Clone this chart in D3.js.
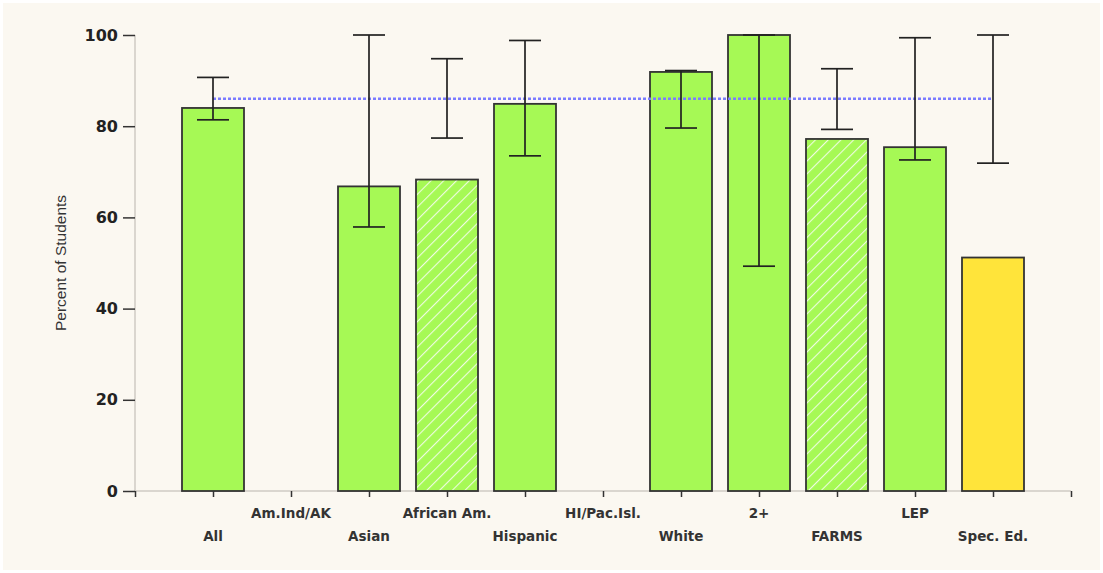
<!DOCTYPE html>
<html><head><meta charset="utf-8">
<script src="https://cdn.jsdelivr.net/npm/d3@7"></script>
<style>
html,body{margin:0;padding:0;background:#fff;}
svg{display:block;}
</style></head>
<body>
<svg id="chart" width="1103" height="573"></svg>
<script>
const categories = ["All","Am.Ind/AK","Asian","African Am.","Hispanic","HI/Pac.Isl.","White","2+","FARMS","LEP","Spec. Ed."];
const values     = [84.0, null, 66.8, 68.3, 84.9, null, 91.9, 100, 77.2, 75.4, 51.2];
const errLow     = [81.4, null, 57.9, 77.4, 73.5, null, 79.6, 49.3, 79.3, 72.6, 71.9];
const errHigh    = [90.7, null, 100, 94.8, 98.8, null, 92.2, 100, 92.6, 99.4, 100];
const fills      = ["solid","solid","solid","hatch","solid","solid","solid","solid","hatch","solid","yellow"];
const yTicks     = [0,20,40,60,80,100];
const refValue   = [86.0];

(function(){
const svg = d3.select("#chart");
const W = 1103, H = 573;
svg.append("rect").attr("x",0).attr("y",0).attr("width",W).attr("height",H).attr("fill","#fff");
svg.append("rect").attr("x",3).attr("y",3).attr("width",W-6).attr("height",H-6).attr("fill","#fbf8f1");

const defs = svg.append("defs");
const pat = defs.append("pattern").attr("id","hatch").attr("patternUnits","userSpaceOnUse")
  .attr("width",9).attr("height",9).attr("patternTransform","rotate(45)");
pat.append("rect").attr("width",9).attr("height",9).attr("fill","#a6f955");
pat.append("line").attr("x1",0).attr("y1",0).attr("x2",0).attr("y2",9)
  .attr("stroke","#eefbe0").attr("stroke-width",2.2);

const pLeft = 135, pRight = 1071, pTop = 35, pBottom = 491;
const y = d3.scaleLinear().domain([0,100]).range([pBottom, pTop]);
const xDomain = ["__start", ...categories, "__end"];
const x = d3.scalePoint().domain(xDomain).range([pLeft, pRight]);
const barW = 62;
const capW = 32;

// y axis
const yAxis = svg.append("g").attr("transform",`translate(${pLeft},0)`)
  .call(d3.axisLeft(y).tickValues(yTicks).tickSize(12).tickPadding(5));
yAxis.select(".domain").attr("stroke","#cfcbc3").attr("stroke-width",1.5).attr("d",`M0,${pBottom}V${pTop}`);
yAxis.selectAll(".tick line").attr("stroke","#333").attr("stroke-width",1.5);
yAxis.selectAll(".tick text").attr("fill","#222").style("font-family","'DejaVu Sans', sans-serif")
  .style("font-weight","bold").style("font-size","16px");

// x axis
const xAxis = svg.append("g").attr("transform",`translate(0,${pBottom})`)
  .call(d3.axisBottom(x).tickValues(xDomain).tickSize(6).tickFormat(""));
xAxis.select(".domain").attr("stroke","#cfcbc3").attr("stroke-width",1.5).attr("d",`M${pLeft},0H${pRight}`);
xAxis.selectAll(".tick line").attr("stroke","#333").attr("stroke-width",1.5);

// category labels (staggered)
svg.append("g").selectAll("text").data(categories).join("text")
  .attr("x", d => x(d))
  .attr("y", (d,i) => i % 2 === 0 ? 541 : 518)
  .attr("text-anchor","middle")
  .style("font-family","'DejaVu Sans', sans-serif").style("font-weight","bold").style("font-size","13.5px")
  .attr("fill","#333")
  .text(d => d);

// y label
svg.append("text").attr("transform",`translate(66,${263}) rotate(-90)`)
  .attr("text-anchor","middle").style("font-family","'Liberation Sans', Arial, sans-serif")
  .style("font-size","15.5px").attr("fill","#333").text("Percent of Students");

const data = categories.map((c,i)=>({c, v: values[i], lo: errLow[i], hi: errHigh[i], f: fills[i]}));

// bars
svg.append("g").selectAll("rect").data(data.filter(d => d.v !== null)).join("rect")
  .attr("x", d => x(d.c) - barW/2)
  .attr("y", d => y(d.v))
  .attr("width", barW)
  .attr("height", d => y(0) - y(d.v))
  .attr("fill", d => d.f === "hatch" ? "url(#hatch)" : d.f === "yellow" ? "#ffe43a" : "#a6f955")
  .attr("stroke","#333").attr("stroke-width",1.8);

// reference line
svg.append("g").selectAll("line").data(refValue).join("line")
  .attr("x1", x(categories[0])).attr("x2", x(categories[categories.length-1]))
  .attr("y1", d => y(d)).attr("y2", d => y(d))
  .attr("stroke","#7b7bff").attr("stroke-width",2.5).attr("stroke-dasharray","3,2");

// error bars
const eb = svg.append("g").selectAll("g").data(data.filter(d => d.lo !== null)).join("g")
  .attr("stroke","#222").attr("stroke-width",1.7);
eb.append("line").attr("x1",d=>x(d.c)).attr("x2",d=>x(d.c)).attr("y1",d=>y(d.lo)).attr("y2",d=>y(d.hi));
eb.append("line").attr("x1",d=>x(d.c)-capW/2).attr("x2",d=>x(d.c)+capW/2).attr("y1",d=>y(d.lo)).attr("y2",d=>y(d.lo));
eb.append("line").attr("x1",d=>x(d.c)-capW/2).attr("x2",d=>x(d.c)+capW/2).attr("y1",d=>y(d.hi)).attr("y2",d=>y(d.hi));
})();
</script>
</body></html>
